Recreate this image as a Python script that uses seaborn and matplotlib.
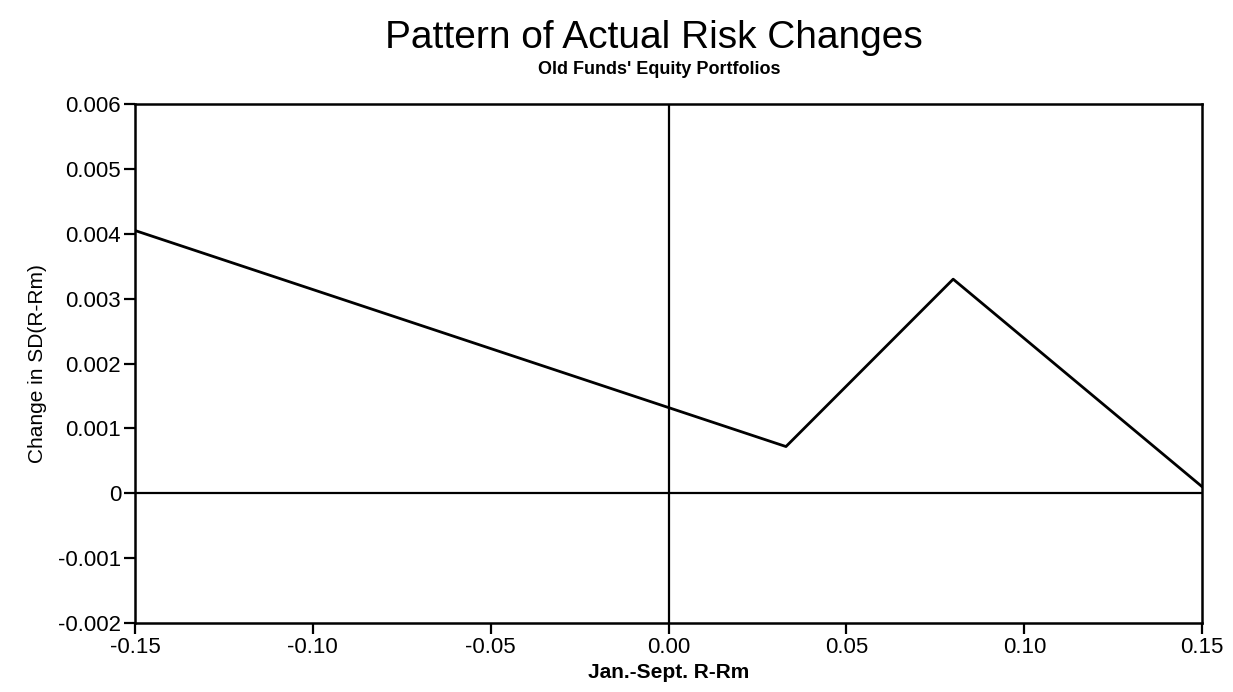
import numpy as np
import pandas as pd
import matplotlib
matplotlib.use('Agg')
import matplotlib.pyplot as plt
import seaborn as sns

# datos
excess_return = [-0.15, 0.033, 0.08, 0.15]
risk_change = [0.00405, 0.00072, 0.0033, 0.0001]
x_ticks = [-0.15, -0.10, -0.05, 0.00, 0.05, 0.10, 0.15]
y_ticks = [-0.002, -0.001, 0, 0.001, 0.002, 0.003, 0.004, 0.005, 0.006]
y_labels = ['-0.002', '-0.001', '0', '0.001', '0.002', '0.003', '0.004', '0.005', '0.006']

df = pd.DataFrame({'x': excess_return, 'y': risk_change})

sns.set_theme(style='ticks')
plt.rcParams['font.family'] = ['Liberation Sans', 'DejaVu Sans']
plt.rcParams['text.color'] = 'black'
plt.rcParams['axes.labelcolor'] = 'black'

fig = plt.figure(figsize=(12.33, 6.92), dpi=100)
ax = fig.add_axes([0.1095, 0.0997, 0.8655, 0.75])

# líneas de referencia en cero
ax.axhline(0, color='black', lw=1.6, zorder=1)
ax.axvline(0, color='black', lw=1.6, zorder=1)

sns.lineplot(data=df, x='x', y='y', color='black', lw=2, ax=ax, zorder=2)

ax.set_xlim(-0.15, 0.15)
ax.set_ylim(-0.002, 0.006)
ax.set_xticks(x_ticks)
ax.set_xticklabels([f'{v:.2f}' for v in x_ticks])
ax.set_yticks(y_ticks)
ax.set_yticklabels(y_labels)
ax.tick_params(axis='both', direction='out', length=8, width=1.6,
               labelsize=16, color='black', labelcolor='black', pad=2)
for s in ax.spines.values():
    s.set_linewidth(1.8)
    s.set_color('black')

ax.set_xlabel('Jan.-Sept. R-Rm', fontsize=15, fontweight='bold', labelpad=4)
ax.set_ylabel('Change in SD(R-Rm)', fontsize=15, labelpad=8)

fig.text(0.53, 0.93, 'Pattern of Actual Risk Changes', ha='center',
         fontsize=28, color='black')
fig.text(0.535, 0.893, "Old Funds' Equity Portfolios", ha='center',
         fontsize=13, fontweight='bold', color='black')

plt.savefig('out.png', dpi=100)
plt.close()
